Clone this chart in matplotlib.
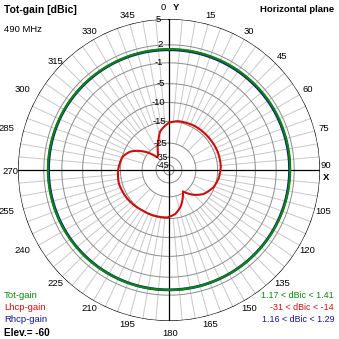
#4nec2 style polar pattern, horizontal plane, tot / lhcp / rhcp gain
import numpy as np
import matplotlib.pyplot as plt

# azimuth (deg, clockwise from Y) and gains in dBic
az_circ = [0, 30, 60, 90, 120, 150, 180, 210, 240, 270, 300, 330, 360]
tot_gain = [1.32, 1.38, 1.41, 1.37, 1.27, 1.19, 1.17, 1.22, 1.30, 1.36, 1.35, 1.30, 1.32]
rhcp_gain = [1.22, 1.25, 1.29, 1.27, 1.22, 1.18, 1.16, 1.18, 1.22, 1.26, 1.28, 1.24, 1.22]

az_lhcp = [0, 10, 30, 49, 70, 86, 100, 111, 125, 135, 147, 155, 163, 172, 182,
           200, 213, 235, 255, 270, 286, 295, 300, 309, 317, 325, 333, 341, 347, 355, 360]
lhcp_gain = [-15.5, -14.7, -14.3, -14.2, -14.0, -14.0, -14.5, -15.3, -17.5, -20.5, -25.7,
             -22.0, -18.8, -16.5, -15.4, -15.2, -15.1, -14.4, -14.0, -14.3, -15.1, -17.0,
             -19.0, -24.2, -31.0, -30.0, -26.0, -22.0, -18.5, -16.5, -15.5]

ring_db = [5, 2, -1, -5, -10, -15, -25, -35, -45]
ring_lbl = ['5', '2', '-1', '-5', '-10', '-15', '-25', '-35', '-45']
ang_lbl = [15, 30, 45, 60, 75, 105, 120, 135, 150, 165, 195, 210, 225, 240, 255,
           285, 300, 315, 330, 345]

# 4nec2 log scale: relative radius of each ring (outer = 1)
ring_frac = [1.0, 0.829, 0.71, 0.572, 0.447, 0.322, 0.178, 0.0855, 0.033]
def rr(db):
    return np.exp(np.interp(db, ring_db[::-1], np.log(ring_frac[::-1])))

plt.rcParams['font.family'] = ['Liberation Sans', 'DejaVu Sans']
fig = plt.figure(figsize=(3.39, 3.39), dpi=100)
W = 339.0
cx, cy, R = 169.0, 170.0, 151.0
ax = fig.add_axes([(cx - R) / W, (W - cy - R) / W, 2 * R / W, 2 * R / W], projection='polar')
ax.set_theta_zero_location('N')
ax.set_theta_direction(-1)
ax.set_ylim(0, 1)
ax.grid(False)
ax.set_xticks([])
ax.set_yticks([])
ax.spines['polar'].set_visible(False)

t = np.linspace(0, 2 * np.pi, 361)
# spokes
for a in range(0, 360, 5):
    if a % 90 == 0:
        continue
    r0 = rr(-15) if a % 15 else rr(-25)
    ax.plot([np.radians(a)] * 2, [r0, 1], color='#c8c8c8', lw=0.7, zorder=1)
# rings
for d in ring_db[1:]:
    ax.plot(t, np.full_like(t, rr(d)), color='#8c8c8c', lw=0.7, zorder=2)
ax.plot(t, np.ones_like(t), color='black', lw=0.9, zorder=2)
# axes
for a in (0, 90):
    ax.plot([np.radians(a), np.radians(a + 180)], [1, 1], color='black', lw=0.9, zorder=3)

curves = []
curves += ax.plot(np.radians(az_lhcp), rr(lhcp_gain), color='#cc0e0e', lw=1.5, zorder=5)
curves += ax.plot(np.radians(az_circ), rr(rhcp_gain), color='#141496', lw=2.0, zorder=4)
curves += ax.plot(np.radians(az_circ), rr(tot_gain), color='#0a870a', lw=1.6, zorder=6)
for ln in curves:
    ln.get_path()._interpolation_steps = 40  # let polar transform bend the segments

fs = 6.8
for d, s in zip(ring_db, ring_lbl):
    ax.text(np.radians(-3), rr(d), s, ha='right', va='center',
            fontsize=fs if d > -30 else 6.2, zorder=7)
for a in ang_lbl:
    ha, va = 'center', 'center'
    if 240 <= a <= 300:
        ha = 'right'
    if a == 315:
        va = 'top'
    ax.text(np.radians(a), 1.06, str(a), ha=ha, va=va, fontsize=fs, clip_on=False)

def ftxt(x, y, s, size=fs, **kw):
    fig.text(x / W, 1 - y / W, s, fontsize=size, va='center', **kw)

ftxt(163, 7, '0', ha='center')
ftxt(176, 8, 'Y', ha='center', fontweight='bold')
ftxt(326, 165, '90', ha='center')
ftxt(326, 178, 'X', ha='center', fontweight='bold')
ftxt(170, 333, '180', ha='center')
ftxt(10, 171, '270', ha='center')

ftxt(4, 10, 'Tot-gain [dBic]', size=7.5, fontweight='bold')
ftxt(4, 30, '490 MHz')
ftxt(334, 10, 'Horizontal plane', size=6.8, ha='right', fontweight='bold')
ftxt(4, 296, 'Tot-gain', color='#0a870a')
ftxt(4, 308, 'Lhcp-gain', color='#cc0e0e')
ftxt(4, 320, 'Rhcp-gain', color='#141496')
ftxt(4, 333, 'Elev.= -60', size=7.2, fontweight='bold')
ftxt(334, 296, '1.17 < dBic < 1.41', size=6.4, ha='right', color='#0a870a')
ftxt(334, 308, '-31 < dBic < -14', size=6.4, ha='right', color='#cc0e0e')
ftxt(334, 320, '1.16 < dBic < 1.29', size=6.4, ha='right', color='#141496')

fig.savefig('out.png', dpi=100, facecolor='white')
